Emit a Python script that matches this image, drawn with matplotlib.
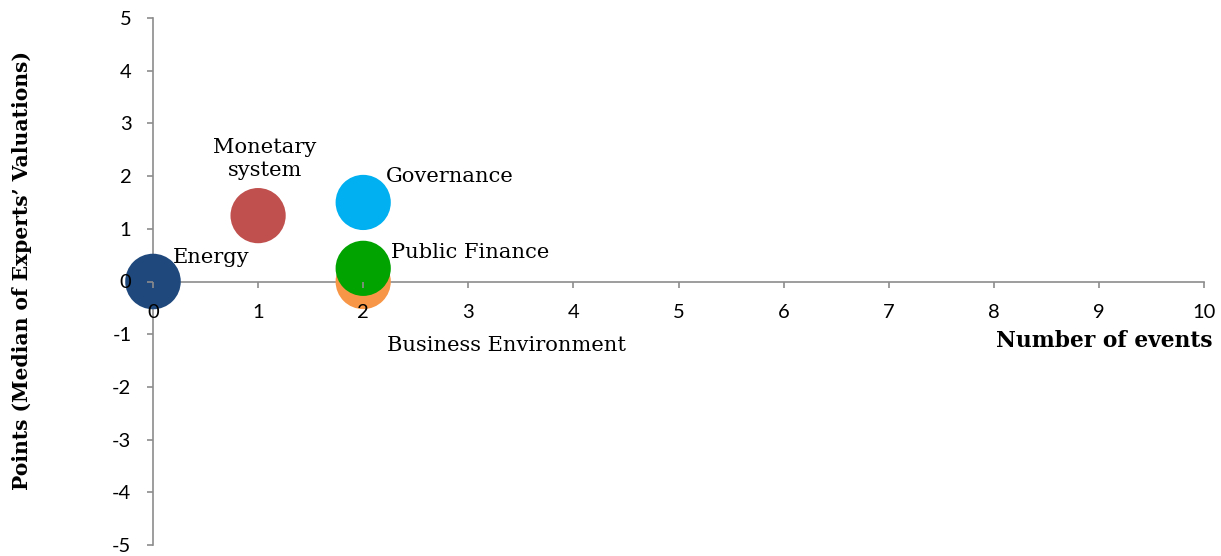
import matplotlib
matplotlib.use("Agg")
import matplotlib.pyplot as plt

plt.rcParams['axes.unicode_minus'] = False

# Data
names = ['Energy', 'Monetary\nsystem', 'Governance', 'Business Environment', 'Public Finance']
events = [0, 1, 2, 2, 2]
points = [0, 1.25, 1.5, 0, 0.25]
sizes = [1600, 1580, 1580, 1580, 1580]
colors = ['#1F497D', '#C0504D', '#00B0F0', '#F79646', '#00A300']
# label offsets in pixels relative to bubble centre
offsets = [(20, 24), (7, 57), (23, 26), (24, -64), (28, 16)]
aligns = ['left', 'center', 'left', 'left', 'left']

xticks = list(range(0, 11))
yticks = list(range(-5, 6))

fig = plt.figure(figsize=(12.21, 5.56), dpi=100)
ax = fig.add_axes([153 / 1221, 11 / 556, 1051 / 1221, 527 / 556])

ax.scatter(events, points, s=sizes, c=colors, zorder=1, clip_on=False, linewidths=0)

for n, x, y, off, ha in zip(names, events, points, offsets, aligns):
    ax.annotate(n, (x, y), xytext=off, textcoords='offset pixels', ha=ha, va='center',
                fontsize=15.1, family='DejaVu Serif', linespacing=1.25)

ax.set_xlim(0, 10)
ax.set_ylim(-5, 5)
ax.set_xticks(xticks)
ax.set_yticks(yticks)

ax.spines['left'].set_position(('data', 0))
ax.spines['bottom'].set_position(('data', 0))
ax.spines['top'].set_visible(False)
ax.spines['right'].set_visible(False)
for s in ['left', 'bottom']:
    ax.spines[s].set_color('#8C8C8C')
    ax.spines[s].set_linewidth(1.2)
    ax.spines[s].set_zorder(0.5)

ax.tick_params(axis='both', direction='out', length=4.5, width=1.2, color='#8C8C8C',
               labelsize=14.5, labelcolor='black', labelfontfamily='Lato')
ax.tick_params(axis='x', pad=12)
ax.tick_params(axis='y', pad=11)

fig.text(1212 / 1221, 1 - 341 / 556, 'Number of events', ha='right', va='center',
         fontsize=15.7, fontweight='bold', family='DejaVu Serif')
fig.text(22 / 1221, 1 - 270 / 556, 'Points (Median of Experts\u2019 Valuations)', ha='center',
         va='center', rotation=90, fontsize=14.6, fontweight='bold', family='DejaVu Serif')

fig.savefig('out.png', dpi=100)
